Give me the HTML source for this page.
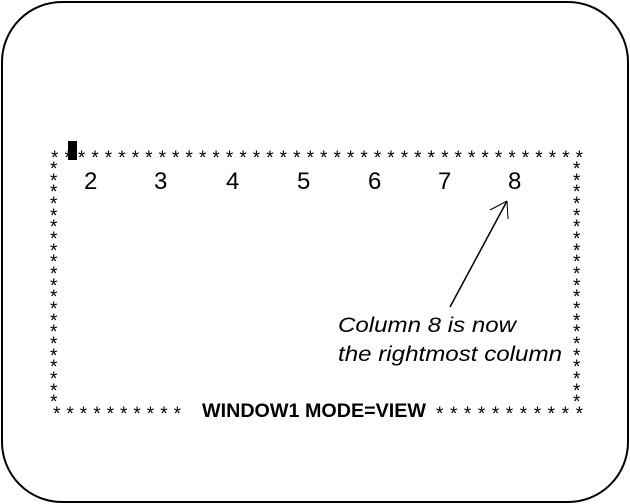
<!DOCTYPE html>
<html><head><style>body{margin:0;background:#fff}svg{display:block}</style></head><body>
<svg width="630" height="504" xmlns="http://www.w3.org/2000/svg" font-family="Liberation Sans, sans-serif">
<rect x="2" y="2" width="626" height="500" rx="60" ry="60" fill="none" stroke="#000" stroke-width="2"/>
<g font-size="19" fill="#000">
<text x="51" y="164" textLength="532" lengthAdjust="spacing">****************************************</text>
<text x="53" y="420" textLength="128" lengthAdjust="spacing">**********</text>
<text x="436" y="420" textLength="147" lengthAdjust="spacing">***********</text>
<text>
<tspan x="50" y="175">*</tspan><tspan x="50" y="187">*</tspan><tspan x="50" y="198">*</tspan><tspan x="50" y="210">*</tspan><tspan x="50" y="222">*</tspan><tspan x="50" y="233">*</tspan><tspan x="50" y="245">*</tspan><tspan x="50" y="257">*</tspan><tspan x="50" y="268">*</tspan><tspan x="50" y="280">*</tspan><tspan x="50" y="292">*</tspan><tspan x="50" y="303">*</tspan><tspan x="50" y="315">*</tspan><tspan x="50" y="327">*</tspan><tspan x="50" y="338">*</tspan><tspan x="50" y="350">*</tspan><tspan x="50" y="362">*</tspan><tspan x="50" y="373">*</tspan><tspan x="50" y="385">*</tspan><tspan x="50" y="397">*</tspan><tspan x="50" y="408">*</tspan>
</text>
<text>
<tspan x="573" y="175">*</tspan><tspan x="573" y="187">*</tspan><tspan x="573" y="198">*</tspan><tspan x="573" y="210">*</tspan><tspan x="573" y="222">*</tspan><tspan x="573" y="233">*</tspan><tspan x="573" y="245">*</tspan><tspan x="573" y="257">*</tspan><tspan x="573" y="268">*</tspan><tspan x="573" y="280">*</tspan><tspan x="573" y="292">*</tspan><tspan x="573" y="303">*</tspan><tspan x="573" y="315">*</tspan><tspan x="573" y="327">*</tspan><tspan x="573" y="338">*</tspan><tspan x="573" y="350">*</tspan><tspan x="573" y="362">*</tspan><tspan x="573" y="373">*</tspan><tspan x="573" y="385">*</tspan><tspan x="573" y="397">*</tspan><tspan x="573" y="408">*</tspan>
</text>
</g>
<rect x="68" y="141" width="9" height="19" fill="#000"/>
<g font-size="24" fill="#000">
<text x="84" y="189">2</text><text x="154" y="189">3</text><text x="226" y="189">4</text><text x="297" y="189">5</text><text x="368" y="189">6</text><text x="438" y="189">7</text><text x="508" y="189">8</text>
</g>
<text x="202" y="417" font-size="19" font-weight="bold" textLength="224" lengthAdjust="spacingAndGlyphs">WINDOW1 MODE=VIEW</text>
<line x1="450" y1="307" x2="507" y2="201" stroke="#000" stroke-width="1.5"/>
<line x1="507" y1="201" x2="490" y2="210" stroke="#000" stroke-width="1"/>
<line x1="507" y1="201" x2="508" y2="219" stroke="#000" stroke-width="1"/>
<g font-size="21" font-style="italic" fill="#000">
<text x="338" y="332" textLength="178" lengthAdjust="spacingAndGlyphs">Column 8 is now</text>
<text x="338" y="361" textLength="224" lengthAdjust="spacingAndGlyphs">the rightmost column</text>
</g>
</svg>
</body></html>
